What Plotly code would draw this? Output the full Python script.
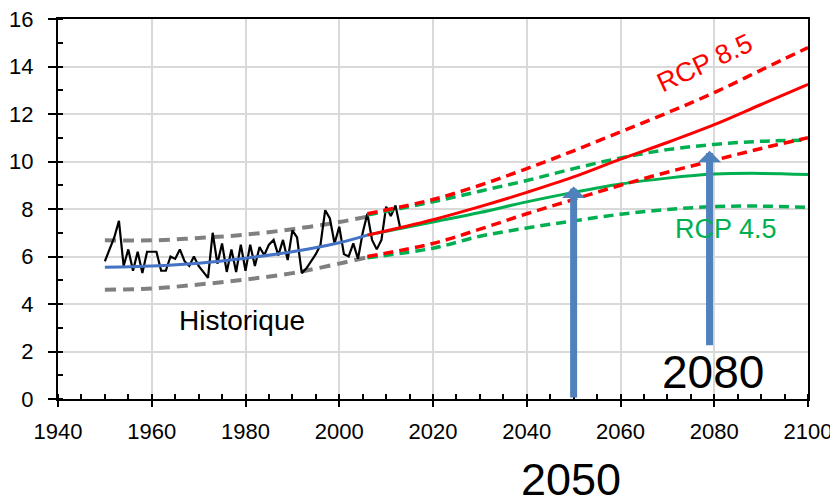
import plotly.graph_objects as go

# ---------------- data ----------------
hist_years = list(range(1950, 2014))
hist_values = [5.8, 6.3, 6.8, 7.5, 5.6, 6.3, 5.4, 6.2, 5.3, 6.2,
               6.2, 6.2, 5.4, 5.4, 6.0, 5.9, 6.3, 5.8, 5.6, 6.0,
               5.6, 5.35, 5.1, 7.0, 5.7, 6.55, 5.35, 6.3, 5.35, 6.5,
               5.4, 6.5, 5.6, 6.4, 6.05, 6.5, 6.7, 6.05, 6.7, 5.85,
               7.1, 6.8, 5.3, 5.5, 5.8, 6.1, 6.5, 7.95, 7.6, 6.55,
               7.25, 6.1, 6.0, 6.55, 5.9, 7.0, 7.8, 6.7, 6.3, 6.7,
               8.1, 7.7, 8.15, 7.2]

trend_years = [1950, 1960, 1970, 1980, 1990, 2000, 2006]
trend_mean = [5.55, 5.6, 5.72, 5.93, 6.2, 6.58, 6.9]
trend_upper = [6.68, 6.68, 6.78, 6.92, 7.15, 7.45, 7.68]
trend_lower = [4.6, 4.65, 4.82, 5.03, 5.3, 5.7, 5.97]

proj_years = [2006, 2020, 2030, 2040, 2050, 2060, 2070, 2080, 2090, 2100]
rcp85_mean = [6.9, 7.55, 8.1, 8.7, 9.35, 10.1, 10.8, 11.55, 12.4, 13.25]
rcp85_upper = [7.8, 8.4, 9.0, 9.7, 10.45, 11.25, 12.05, 12.9, 13.85, 14.8]
rcp85_lower = [6.0, 6.55, 7.15, 7.8, 8.4, 9.0, 9.55, 10.05, 10.55, 11.0]
rcp45_mean = [6.9, 7.45, 7.85, 8.3, 8.7, 9.05, 9.3, 9.47, 9.5, 9.45]
rcp45_upper = [7.75, 8.3, 8.75, 9.2, 9.7, 10.15, 10.5, 10.72, 10.85, 10.9]
rcp45_lower = [5.95, 6.35, 6.85, 7.2, 7.5, 7.78, 7.98, 8.1, 8.12, 8.07]

arrow_years = [2050, 2079]
arrow_bases = [0.0, 2.2]
arrow_tips = [8.95, 10.45]

x_ticks = [1940, 1960, 1980, 2000, 2020, 2040, 2060, 2080, 2100]
y_ticks = [0, 2, 4, 6, 8, 10, 12, 14, 16]

# ---------------- figure ----------------
FONT = "Arial, Liberation Sans, sans-serif"
RED = "#FF0000"
GREEN = "#00B050"
GRAY = "#808080"
BLUE = "#4472C4"
ARROW = "#4F81BD"

fig = go.Figure()

def add_line(x, y, color, width, dash=None, spline=True):
    fig.add_trace(go.Scatter(
        x=x, y=y, mode="lines",
        line=dict(color=color, width=width, dash=dash,
                  shape="spline" if spline else "linear", smoothing=1.0),
        hoverinfo="skip", showlegend=False))

add_line(trend_years, trend_upper, GRAY, 4, "11px,7px")
add_line(trend_years, trend_lower, GRAY, 4, "11px,7px")
add_line(hist_years, hist_values, "black", 2.2, spline=False)
add_line(trend_years, trend_mean, BLUE, 3)

add_line(proj_years, rcp45_upper, GREEN, 3.5, "10px,6px")
add_line(proj_years, rcp45_lower, GREEN, 3.5, "10px,6px")
add_line(proj_years, rcp45_mean, GREEN, 3)

add_line(proj_years, rcp85_upper, RED, 3.5, "10px,6px")
add_line(proj_years, rcp85_lower, RED, 3.5, "10px,6px")
add_line(proj_years, rcp85_mean, RED, 3)

annotations = []
for xa, yb, yt in zip(arrow_years, arrow_bases, arrow_tips):
    annotations.append(dict(
        x=xa, y=yt, ax=xa, ay=yb, xref="x", yref="y", axref="x", ayref="y",
        text="", showarrow=True, arrowhead=1, arrowsize=0.55, arrowwidth=7,
        arrowcolor=ARROW))

annotations += [
    dict(x=1979.3, y=3.3, xref="x", yref="y", text="Historique", showarrow=False,
         font=dict(family=FONT, size=28, color="black")),
    dict(x=2082.6, y=7.15, xref="x", yref="y", text="RCP 4.5", showarrow=False,
         font=dict(family=FONT, size=27, color=GREEN)),
    dict(x=2078, y=14.15, xref="x", yref="y", text="RCP 8.5", showarrow=False,
         textangle=-25, font=dict(family=FONT, size=27, color=RED)),
    dict(x=2079.8, y=1.15, xref="x", yref="y", text="2080", showarrow=False,
         font=dict(family=FONT, size=46, color="black")),
    dict(x=2049.4, y=-0.212, xref="x", yref="paper", text="2050", showarrow=False,
         yanchor="middle", font=dict(family=FONT, size=45, color="black")),
]

# the page adds an 8px body margin, so the figure is shrunk by 8px and
# its margins shifted accordingly
fig.update_layout(
    width=830, height=495,
    margin=dict(l=50, r=30, t=11, b=104, autoexpand=False),
    paper_bgcolor="white", plot_bgcolor="white",
    font=dict(family=FONT, size=22, color="black"),
    showlegend=False,
    annotations=annotations,
)

fig.update_xaxes(
    range=[1940, 2100], tickvals=x_ticks, ticktext=[str(v) for v in x_ticks],
    automargin=False, ticklabeloverflow="allow",
    showgrid=True, gridcolor="#D9D9D9", gridwidth=1.5,
    showline=True, linecolor="black", linewidth=2, mirror=True,
    ticks="outside", ticklen=6, tickwidth=2, tickcolor="black",
    ticklabelstandoff=6,
    minor=dict(dtick=5, tick0=1940, ticks="inside", ticklen=5, tickwidth=1.5,
               tickcolor="black", showgrid=False),
    zeroline=False, tickfont=dict(size=22, family=FONT, color="black"),
)
fig.update_yaxes(
    range=[0, 16], tickvals=y_ticks, ticktext=[str(v) for v in y_ticks],
    automargin=False, ticklabeloverflow="allow",
    showgrid=True, gridcolor="#D9D9D9", gridwidth=1.5,
    showline=True, linecolor="black", linewidth=2, mirror=True,
    ticks="outside", ticklen=8, tickwidth=2, tickcolor="black",
    ticklabelstandoff=10,
    minor=dict(dtick=1, tick0=0, ticks="inside", ticklen=5, tickwidth=1.5,
               tickcolor="black", showgrid=False),
    zeroline=False, tickfont=dict(size=22, family=FONT, color="black"),
)

fig.write_html("out.html")
